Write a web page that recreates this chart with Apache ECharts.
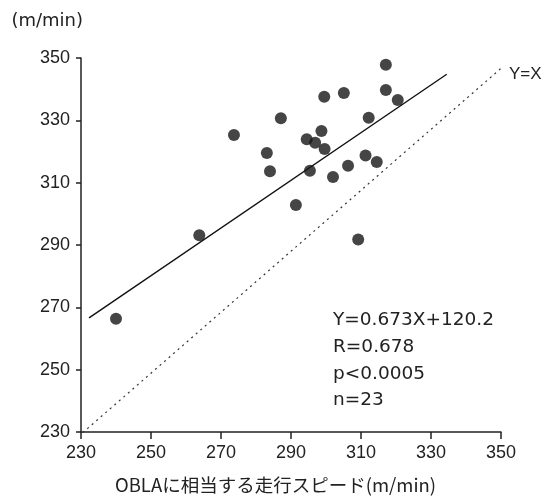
<!DOCTYPE html>
<html>
<head>
<meta charset="utf-8">
<script src="https://cdn.jsdelivr.net/npm/echarts@6/dist/echarts.min.js"></script>
<style>
  html, body { margin: 0; padding: 0; background: #fff; }
  #chart { width: 546px; height: 503px; }
</style>
</head>
<body>
<div id="chart"></div>
<script>
// OBLA speed (x) vs measured speed (y), m/min
const speedX = [240.0, 263.8, 273.7, 283.1, 284.0, 287.1, 291.4, 294.5, 296.9, 298.7, 299.6, 295.4,
  299.5, 305.1, 302.0, 306.3, 311.3, 314.5, 312.2, 309.2, 317.1, 317.1, 320.5]
const speedY = [266.3, 293.1, 325.3, 319.5, 313.7, 330.7, 302.8, 323.9, 322.8, 326.6, 320.8, 313.8,
  337.6, 338.8, 311.8, 315.4, 318.7, 316.6, 330.8, 291.8, 347.8, 339.7, 336.5]
// regression line ends
const fitX = [232.3, 334.5]
const fitY = [266.6, 344.8]
// Y=X guide as drawn
const diagX = [230.5, 353.4]
const diagY = [229.8, 350]
const axisTicks = [230, 250, 270, 290, 310, 330, 350]
const statLines = ['Y=0.673X+120.2', 'R=0.678', 'p<0.0005', 'n=23']

const pairs = (xs, ys) => xs.map((x, i) => [x, ys[i]])
const font = '"Liberation Sans", Arial, sans-serif'
const wideFont = '"DejaVu Sans", sans-serif'
const ink = '#222'

const chart = echarts.init(document.getElementById('chart'))
const option = {
  animation: false,
  grid: { left: 81, right: 45, top: 58, bottom: 71 },
  xAxis: {
    type: 'value',
    min: axisTicks[0],
    max: axisTicks[axisTicks.length - 1],
    interval: 20,
    name: 'OBLAに相当する走行スピード(m/min)',
    nameLocation: 'middle',
    nameGap: 53,
    nameTextStyle: {
      color: ink,
      fontSize: 18.5,
      fontFamily: '"Noto Sans CJK JP", sans-serif',
      verticalAlign: 'middle',
      padding: [0, 31, 0, 0]
    },
    axisLine: { onZero: false, lineStyle: { color: ink, width: 1.5 } },
    axisTick: { show: true, inside: false, length: 7, lineStyle: { color: ink, width: 1.5 } },
    axisLabel: { color: ink, fontSize: 18, fontFamily: font, margin: 12 },
    splitLine: { show: false }
  },
  yAxis: {
    type: 'value',
    min: axisTicks[0],
    max: axisTicks[axisTicks.length - 1],
    interval: 20,
    name: '(m/min)',
    nameLocation: 'end',
    nameGap: 37,
    nameTextStyle: {
      color: ink,
      fontSize: 18,
      fontFamily: wideFont,
      align: 'right',
      verticalAlign: 'middle',
      padding: [0, -2, 0, 0]
    },
    axisLine: { onZero: false, lineStyle: { color: ink, width: 1.5 } },
    axisTick: { show: true, inside: false, length: 5, lineStyle: { color: ink, width: 1.5 } },
    axisLabel: { color: ink, fontSize: 18, fontFamily: font, margin: 11 },
    splitLine: { show: false }
  },
  graphic: [
    {
      type: 'text',
      left: 509,
      top: 66,
      style: { text: 'Y=X', fill: ink, font: '17px ' + font }
    },
    {
      type: 'text',
      left: 333,
      top: 307,
      style: {
        text: statLines.join('\n'),
        fill: ink,
        font: '18.5px ' + wideFont,
        lineHeight: 26.7
      }
    }
  ],
  series: [
    {
      name: 'Y=X',
      type: 'line',
      data: pairs(diagX, diagY),
      symbol: 'none',
      clip: false,
      lineStyle: { color: '#333', width: 1.2, type: [2, 4] },
      z: 1
    },
    {
      name: 'fit',
      type: 'line',
      data: pairs(fitX, fitY),
      symbol: 'none',
      lineStyle: { color: '#111', width: 1.4 },
      z: 2
    },
    {
      name: 'subjects',
      type: 'scatter',
      data: pairs(speedX, speedY),
      symbol: 'circle',
      symbolSize: 12,
      itemStyle: { color: '#161616' },
      z: 3
    }
  ]
}
chart.setOption(option)
</script>
</body>
</html>
